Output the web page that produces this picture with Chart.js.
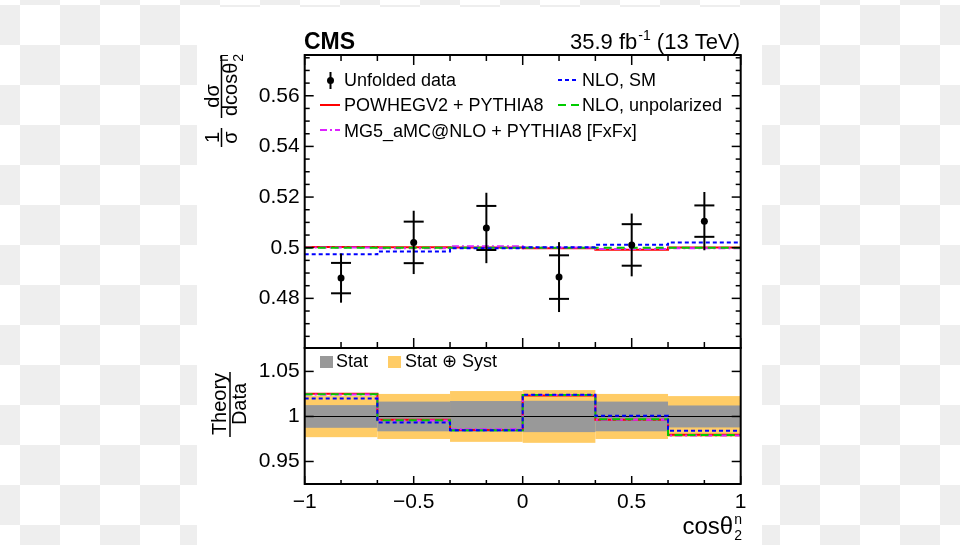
<!DOCTYPE html>
<html>
<head>
<meta charset="utf-8">
<script src="https://cdn.jsdelivr.net/npm/chart.js@4.4.0/dist/chart.umd.min.js"></script>
<style>
  html, body { margin: 0; padding: 0; }
  body {
    width: 960px; height: 545px; position: relative; overflow: hidden;
    background: repeating-conic-gradient(#eeeeee 0% 25%, #ffffff 0% 50%) -20px 45px / 80px 80px;
  }
  #sheet { position: absolute; left: 197px; top: 7px; width: 565px; height: 538px; background: #fff; }
  canvas { position: absolute; left: 0; top: 0; }
</style>
</head>
<body>
<div id="sheet"></div>
<canvas id="upper" width="960" height="545"></canvas>
<canvas id="lower" width="960" height="545"></canvas>
<script>
// binning in cos(theta_2^n)
const binEdges = [-1, -2 / 3, -1 / 3, 0, 1 / 3, 2 / 3, 1];
const binCenters = [-5 / 6, -1 / 2, -1 / 6, 1 / 6, 1 / 2, 5 / 6];

// unfolded data, stat and total uncertainty
const dataValues = [0.4880, 0.5021, 0.5078, 0.4884, 0.5011, 0.5105];
const dataStat = [0.0060, 0.0082, 0.0087, 0.0086, 0.0082, 0.0062];
const dataTotal = [0.0097, 0.0125, 0.0139, 0.0138, 0.0124, 0.0115];

// predictions (upper panel)
const powheg = [0.5003, 0.5002, 0.5001, 0.4998, 0.4992, 0.5001];
const mg5 = [0.5001, 0.4998, 0.5006, 0.5001, 0.4995, 0.4998];
const nloUnpol = [0.5000, 0.5000, 0.5000, 0.5000, 0.5000, 0.5000];
const nloSm = [0.4974, 0.4985, 0.4998, 0.5002, 0.5012, 0.5021];

// theory / data (lower panel)
const ratioPowheg = [1.0252, 0.9963, 0.9849, 1.0233, 0.9963, 0.9797];
const ratioMg5 = [1.0245, 0.9955, 0.9858, 1.0238, 0.9963, 0.9788];
const ratioNloUnpol = [1.0246, 0.9958, 0.9846, 1.0237, 0.9968, 0.9794];
const ratioNloSm = [1.0200, 0.9933, 0.9846, 1.0242, 1.0008, 0.9841];
const ratioStat = [0.0126, 0.0165, 0.0171, 0.0174, 0.0165, 0.0122];
const ratioTotal = [0.0230, 0.0250, 0.0282, 0.0293, 0.0250, 0.0226];

// axes
const xTicks = [-1, -0.5, 0, 0.5, 1];
const xTickLabels = ['\u22121', '\u22120.5', '0', '0.5', '1'];
const upperYTicks = [0.48, 0.50, 0.52, 0.54, 0.56];
const upperYTickLabels = ['0.48', '0.5', '0.52', '0.54', '0.56'];
const lowerYTicks = [0.95, 1, 1.05];
const lowerYTickLabels = ['0.95', '1', '1.05'];

const FONT = "'Liberation Sans', Arial, Helvetica, sans-serif";
const RED = '#ff0000', GREEN = '#00cc00', MAGENTA = '#dd22ff', BLUE = '#0000ff';
const DASH_SM = [4, 3], DASH_UNPOL = [8, 5], DASH_MG5 = [7, 3, 2, 3];

function stepPoints(values) {
  const pts = values.map((v, i) => ({ x: binEdges[i], y: v }));
  pts.push({ x: binEdges[binEdges.length - 1], y: values[values.length - 1] });
  return pts;
}

function theorySet(values, color, dash, order) {
  return {
    data: stepPoints(values),
    borderColor: color,
    borderDash: dash,
    borderWidth: 2,
    stepped: 'before',
    pointRadius: 0,
    fill: false,
    order: order
  };
}

function seg(ctx, x0, y0, x1, y1) {
  ctx.beginPath();
  ctx.moveTo(x0, y0);
  ctx.lineTo(x1, y1);
  ctx.stroke();
}

// frame with ROOT style inner ticks
function drawFrame(chart, cfg) {
  const { ctx, chartArea: a, scales: { x, y } } = chart;
  ctx.save();
  ctx.strokeStyle = '#000';
  ctx.lineWidth = 1.5;
  for (let k = 0; k <= 12; k++) {
    const px = x.getPixelForValue(-1 + k / 6);
    const len = k % 3 === 0 ? cfg.xMajor : cfg.xMinor;
    seg(ctx, px, a.bottom, px, a.bottom - len);
    if (cfg.topTicks) seg(ctx, px, a.top, px, a.top + len);
  }
  for (let k = 0; k <= cfg.yCount; k++) {
    const v = cfg.yStart + k * cfg.yStep;
    if (v < y.min || v > y.max) continue;
    const py = y.getPixelForValue(v);
    const major = k % cfg.yMajorEvery === 0;
    const len = major ? cfg.yMajor : cfg.yMinor;
    seg(ctx, a.left, py, a.left + len, py);
    seg(ctx, a.right, py, a.right - len, py);
  }
  ctx.lineWidth = 2;
  ctx.strokeRect(a.left, a.top, a.right - a.left, a.bottom - a.top);
  ctx.restore();
}

function text(ctx, str, x, y, size, opts) {
  opts = opts || {};
  ctx.font = (opts.bold ? 'bold ' : '') + size + 'px ' + FONT;
  ctx.fillStyle = '#000';
  ctx.textAlign = opts.align || 'left';
  ctx.textBaseline = 'alphabetic';
  ctx.fillText(str, x, y);
  return ctx.measureText(str).width;
}

function legendLine(ctx, x0, x1, y, color, dash) {
  ctx.save();
  ctx.strokeStyle = color;
  ctx.lineWidth = 2;
  ctx.setLineDash(dash);
  seg(ctx, x0, y, x1, y);
  ctx.restore();
}

const upperDecor = {
  id: 'upperDecor',
  afterDatasetsDraw(chart) {
    const { ctx, scales: { x, y } } = chart;
    ctx.save();
    ctx.strokeStyle = '#000';
    ctx.lineWidth = 2;
    binCenters.forEach((c, i) => {
      const px = x.getPixelForValue(c);
      const v = dataValues[i];
      seg(ctx, px, y.getPixelForValue(v + dataTotal[i]), px, y.getPixelForValue(v - dataTotal[i]));
      [v + dataStat[i], v - dataStat[i]].forEach(s => {
        const py = y.getPixelForValue(s);
        seg(ctx, px - 10, py, px + 10, py);
      });
    });
    ctx.restore();
  },
  afterDraw(chart) {
    const ctx = chart.ctx;
    drawFrame(chart, { xMajor: 10, xMinor: 6, topTicks: true, yStart: 0.46, yStep: 0.005, yCount: 24, yMajorEvery: 4, yMajor: 9, yMinor: 5 });

    ctx.save();
    // header
    text(ctx, 'CMS', 304, 49, 23, { bold: true });
    let w = text(ctx, ' (13 TeV)', 740, 49, 22, { align: 'right' });
    ctx.font = '14px ' + FONT;
    const sw = ctx.measureText('-1').width;
    text(ctx, '-1', 740 - w - sw, 40, 14);
    text(ctx, '35.9 fb', 740 - w - sw - 1, 49, 22, { align: 'right' });

    // legend
    ctx.strokeStyle = '#000';
    ctx.lineWidth = 2;
    seg(ctx, 330.5, 72, 330.5, 89);
    ctx.beginPath();
    ctx.arc(330.5, 80.5, 3.5, 0, Math.PI * 2);
    ctx.fillStyle = '#000';
    ctx.fill();
    text(ctx, 'Unfolded data', 344, 86, 18);
    legendLine(ctx, 320, 340, 105, RED, []);
    text(ctx, 'POWHEGV2 + PYTHIA8', 344, 111, 18);
    legendLine(ctx, 320, 340, 130, MAGENTA, DASH_MG5);
    text(ctx, 'MG5_aMC@NLO + PYTHIA8 [FxFx]', 344, 136.5, 18);
    legendLine(ctx, 558, 579, 80, BLUE, DASH_SM);
    text(ctx, 'NLO, SM', 582, 86, 18);
    legendLine(ctx, 558, 579, 105, GREEN, DASH_UNPOL);
    text(ctx, 'NLO, unpolarized', 582, 111, 18);

    // rotated y title: 1/sigma dsigma/dcos(theta_2^n)
    ctx.save();
    ctx.rotate(-Math.PI / 2);
    ctx.fillStyle = '#000';
    ctx.font = '20px ' + FONT;
    ctx.textAlign = 'center';
    ctx.fillText('1', -137.5, 219);
    ctx.fillText('\u03c3', -137.5, 237);
    ctx.fillText('d\u03c3', -96, 219);
    ctx.textAlign = 'left';
    ctx.fillText('dcos\u03b8', -116, 237);
    const dw = ctx.measureText('dcos\u03b8').width;
    ctx.font = '14px ' + FONT;
    ctx.fillText('2', -116 + dw + 1, 243);
    ctx.fillText('n', -116 + dw + 1, 228);
    ctx.strokeStyle = '#000';
    ctx.lineWidth = 1.5;
    seg(ctx, -147, 221.5, -128, 221.5);
    seg(ctx, -118, 221.5, -55, 221.5);
    ctx.restore();
    ctx.restore();
  }
};

const lowerDecor = {
  id: 'lowerDecor',
  beforeDatasetsDraw(chart) {
    const { ctx, chartArea: a, scales: { x, y } } = chart;
    ctx.save();
    ctx.beginPath();
    ctx.rect(a.left, a.top, a.right - a.left, a.bottom - a.top);
    ctx.clip();
    [[ratioTotal, '#ffcc66'], [ratioStat, '#999999']].forEach(([band, color]) => {
      ctx.fillStyle = color;
      band.forEach((e, i) => {
        const x0 = x.getPixelForValue(binEdges[i]);
        const x1 = x.getPixelForValue(binEdges[i + 1]);
        const y0 = y.getPixelForValue(1 + e);
        const y1 = y.getPixelForValue(1 - e);
        ctx.fillRect(x0, y0, x1 - x0, y1 - y0);
      });
    });
    ctx.strokeStyle = '#000';
    ctx.lineWidth = 1;
    const p1 = Math.round(y.getPixelForValue(1)) + 0.5;
    seg(ctx, a.left, p1, a.right, p1);
    ctx.restore();
  },
  afterDraw(chart) {
    const ctx = chart.ctx;
    drawFrame(chart, { xMajor: 8, xMinor: 4, topTicks: false, yStart: 0.95, yStep: 0.05, yCount: 2, yMajorEvery: 1, yMajor: 9, yMinor: 5 });
    ctx.save();
    ctx.fillStyle = '#999999';
    ctx.fillRect(320, 356, 13, 12);
    text(ctx, 'Stat', 336, 367, 18);
    ctx.fillStyle = '#ffcc66';
    ctx.fillRect(388, 356, 13, 12);
    text(ctx, 'Stat \u2295 Syst', 405, 367, 18);

    // y title Theory / Data
    ctx.save();
    ctx.rotate(-Math.PI / 2);
    ctx.fillStyle = '#000';
    ctx.font = '20px ' + FONT;
    ctx.textAlign = 'center';
    ctx.fillText('Theory', -404, 226);
    ctx.fillText('Data', -404, 246);
    ctx.strokeStyle = '#000';
    ctx.lineWidth = 1.5;
    seg(ctx, -437, 230, -372, 230);
    ctx.restore();

    // x title
    ctx.font = '14px ' + FONT;
    const subW = ctx.measureText('2').width;
    text(ctx, '2', 742, 540, 14, { align: 'right' });
    text(ctx, 'n', 742, 524, 14, { align: 'right' });
    text(ctx, 'cos\u03b8', 742 - subW - 1, 534, 24, { align: 'right' });
    ctx.restore();
  }
};

const common = {
  responsive: false,
  animation: false,
  events: [],
  plugins: { legend: { display: false }, tooltip: { enabled: false } }
};

new Chart(document.getElementById('upper'), {
  type: 'line',
  data: {
    datasets: [
      {
        data: binCenters.map((c, i) => ({ x: c, y: dataValues[i] })),
        showLine: false,
        pointRadius: 3.5,
        pointBackgroundColor: '#000',
        pointBorderWidth: 0,
        order: 0
      },
      theorySet(nloSm, BLUE, DASH_SM, 1),
      theorySet(nloUnpol, GREEN, DASH_UNPOL, 2),
      theorySet(mg5, MAGENTA, DASH_MG5, 3),
      theorySet(powheg, RED, [], 4)
    ]
  },
  options: {
    ...common,
    layout: { padding: { left: 244.7, right: 219.3, top: 55, bottom: 197 } },
    scales: {
      x: { type: 'linear', min: -1, max: 1, display: false },
      y: {
        type: 'linear', min: 0.4604, max: 0.5761,
        grid: { display: false, drawTicks: false },
        border: { display: false },
        afterBuildTicks: s => { s.ticks = upperYTicks.map(v => ({ value: v })); },
        afterFit: s => { s.width = 60; },
        ticks: { callback: (v, i) => upperYTickLabels[i], padding: 5, color: '#000', font: { family: FONT, size: 21 } }
      }
    }
  },
  plugins: [upperDecor]
});

new Chart(document.getElementById('lower'), {
  type: 'line',
  data: {
    datasets: [
      theorySet(ratioNloSm, BLUE, DASH_SM, 1),
      theorySet(ratioNloUnpol, GREEN, DASH_UNPOL, 2),
      theorySet(ratioMg5, MAGENTA, DASH_MG5, 3),
      theorySet(ratioPowheg, RED, [], 4)
    ]
  },
  options: {
    ...common,
    layout: { padding: { left: 244.7, right: 219.3, top: 348, bottom: 21 } },
    scales: {
      x: {
        type: 'linear', min: -1, max: 1,
        grid: { display: false, drawTicks: false },
        border: { display: false },
        afterBuildTicks: s => { s.ticks = xTicks.map(v => ({ value: v })); },
        afterFit: s => { s.height = 40; },
        ticks: { callback: (v, i) => xTickLabels[i], padding: 6, maxRotation: 0, autoSkip: false, color: '#000', font: { family: FONT, size: 21 } }
      },
      y: {
        type: 'linear', min: 0.925, max: 1.076,
        grid: { display: false, drawTicks: false },
        border: { display: false },
        afterBuildTicks: s => { s.ticks = lowerYTicks.map(v => ({ value: v })); },
        afterFit: s => { s.width = 60; },
        ticks: { callback: (v, i) => lowerYTickLabels[i], padding: 5, color: '#000', font: { family: FONT, size: 21 } }
      }
    }
  },
  plugins: [lowerDecor]
});
</script>
</body>
</html>
